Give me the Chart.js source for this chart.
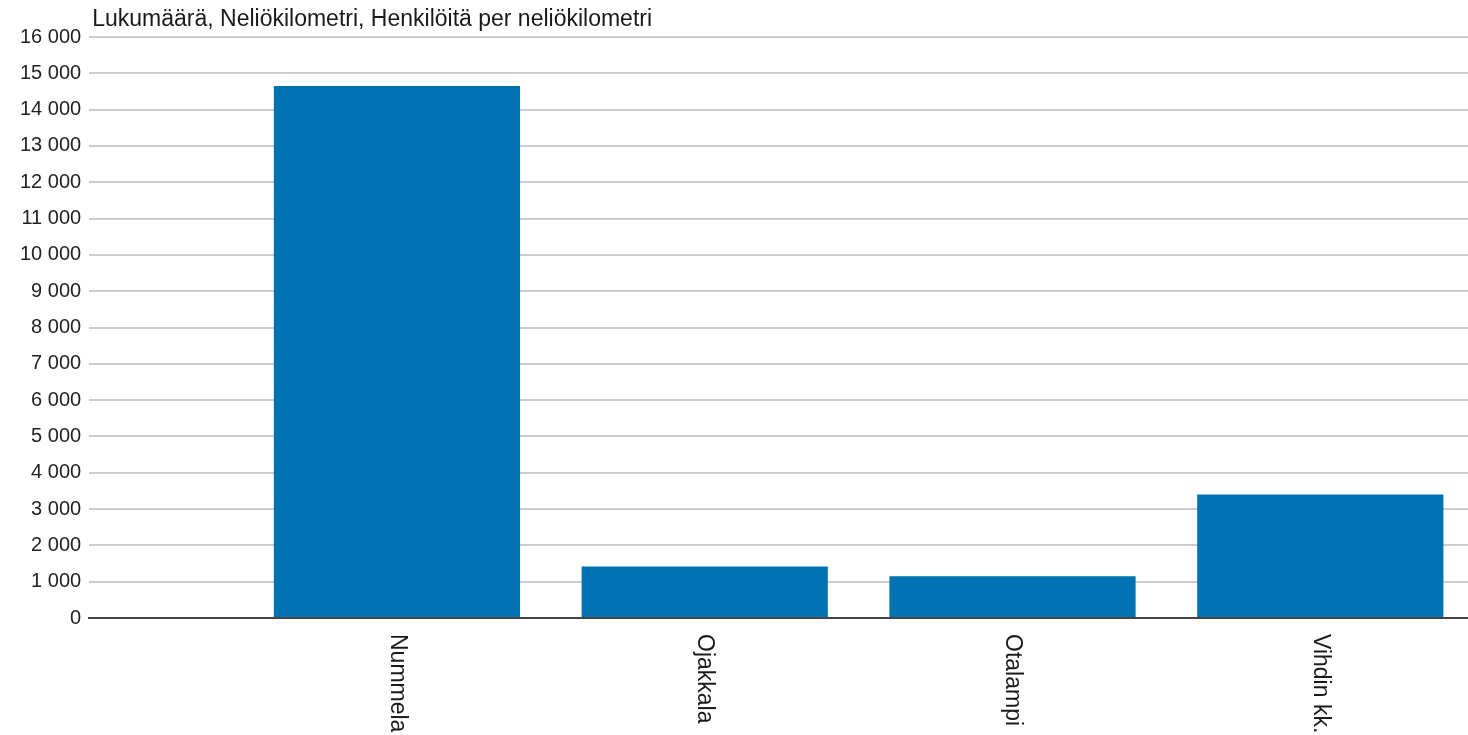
<!DOCTYPE html>
<html>
<head>
<meta charset="utf-8">
<script src="https://cdn.jsdelivr.net/npm/chart.js@4"></script>
<style>
  html, body { margin: 0; padding: 0; background: #fff; }
  #wrap { width: 1468px; height: 735px; }
</style>
</head>
<body>
<div id="wrap"><canvas id="mainChart"></canvas></div>
<script>
const categories = ['Nummela', 'Ojakkala', 'Otalampi', 'Vihdin kk.'];
const values = [14650, 1420, 1150, 3400];
const yTicks = [0, 1000, 2000, 3000, 4000, 5000, 6000, 7000, 8000, 9000, 10000, 11000, 12000, 13000, 14000, 15000, 16000];
const unitTitle = 'Lukumäärä, Neliökilometri, Henkilöitä per neliökilometri';

const FONT = '"Liberation Sans", Arial, sans-serif';

// otsikko ja pystyyn käännetyt kategorianimet piirretään itse
const extraText = {
    id: 'extraText',
    afterDraw(chart) {
        const ctx = chart.ctx;
        const area = chart.chartArea;
        const x = chart.scales.x;
        ctx.save();
        ctx.fillStyle = '#1a1a1a';
        ctx.font = '23px ' + FONT;
        ctx.textAlign = 'left';
        ctx.textBaseline = 'alphabetic';
        ctx.fillText(unitTitle, area.left + 3, 26);
        categories.forEach((name, i) => {
            const px = x.getPixelForValue(i + 1);
            ctx.save();
            ctx.translate(px, area.bottom + 16);
            ctx.rotate(Math.PI / 2);
            ctx.textBaseline = 'middle';
            ctx.fillText(name, 0, 0);
            ctx.restore();
        });
        ctx.restore();
    }
};

document.addEventListener('DOMContentLoaded', () => {
    const ctx = document.getElementById('mainChart');
    new Chart(ctx, {
        type: 'bar',
        data: {
            datasets: [{
                data: values.map((v, i) => ({ x: i + 1, y: v })),
                backgroundColor: '#0071b1',
                barPercentage: 0.8,
                categoryPercentage: 1
            }]
        },
        options: {
            responsive: true,
            maintainAspectRatio: false,
            animation: false,
            layout: { padding: { top: 37, right: 0, bottom: 109, left: 12 } },
            plugins: { legend: { display: false }, tooltip: { enabled: false } },
            scales: {
                x: {
                    type: 'linear',
                    offset: false,
                    min: 0,
                    max: 4.48,
                    afterBuildTicks: (scale) => { scale.ticks = categories.map((c, i) => ({ value: i + 1 })); },
                    ticks: { display: false },
                    grid: { display: false },
                    border: { display: true, color: '#444', width: 2 }
                },
                y: {
                    min: 0,
                    max: 16000,
                    afterBuildTicks: (scale) => { scale.ticks = yTicks.map(v => ({ value: v })); },
                    ticks: {
                        color: '#222',
                        font: { family: FONT, size: 20 },
                        padding: 8,
                        callback: (v) => String(v).replace(/\B(?=(\d{3})+(?!\d))/g, ' ')
                    },
                    grid: { color: '#cccccc', lineWidth: 2, drawTicks: false },
                    border: { display: false }
                }
            }
        },
        plugins: [extraText]
    });
});
</script>
</body>
</html>
